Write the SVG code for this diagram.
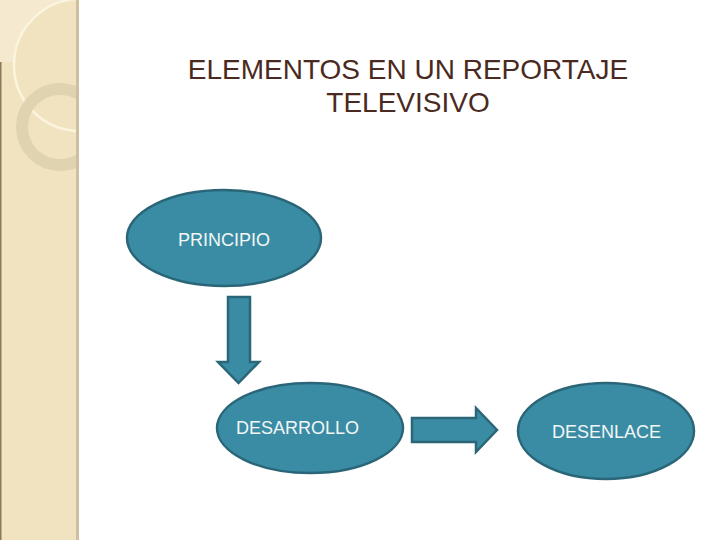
<svg xmlns="http://www.w3.org/2000/svg" width="720" height="540" viewBox="0 0 720 540">
<defs>
<style>
.title{font-family:"Liberation Sans",Arial,sans-serif;font-size:28px;fill:#4a2a20;text-anchor:middle}
.node{fill:#3a8ca5;stroke:#2a6678;stroke-width:2.5}
.lbl{font-family:"Liberation Sans",Arial,sans-serif;font-size:18px;fill:#f2f6f6}
.arrow{fill:#3a8ca5;stroke:#2a6678;stroke-width:2.5;stroke-linejoin:miter}
</style>
<clipPath id="side"><rect x="0" y="0" width="76" height="540"/></clipPath>
</defs>
<rect width="720" height="540" fill="#ffffff"/>
<g id="sidebar">
<rect x="0" y="0" width="76" height="540" fill="#f2e3c0"/>
<rect x="76" y="0" width="3" height="540" fill="#cdbf9f"/>
<rect x="0" y="62" width="1.5" height="478" fill="#8a7a5a"/>
<g clip-path="url(#side)">
<path d="M0 0 H64 A68 68 0 0 0 14 62 H0 Z" fill="#f5ead0"/>
<path d="M64 0 A68 68 0 0 0 14 62" fill="none" stroke="#d2c29c" stroke-width="0.8"/>
<circle cx="80" cy="65" r="66" fill="none" stroke="#fbf4de" stroke-width="2.5"/>
<circle cx="60" cy="127" r="38" fill="none" stroke="#ddd0ae" stroke-width="12" opacity="0.9"/>
</g>
</g>
<g id="title">
<text class="title" x="408" y="79">ELEMENTOS EN UN REPORTAJE</text>
<text class="title" x="408" y="112">TELEVISIVO</text>
</g>
<g id="connectors">
<path class="arrow" d="M228 297 H250 V362 H259 L238.5 383 L218 362 H228 Z"/>
<path class="arrow" d="M412 418 H476 V408 L497 430 L476 452 V442 H412 Z"/>
</g>
<g id="principio">
<ellipse class="node" cx="224" cy="238" rx="97" ry="48"/>
<text class="lbl" x="178" y="246">PRINCIPIO</text>
</g>
<g id="desarrollo">
<ellipse class="node" cx="310" cy="428" rx="93" ry="45"/>
<text class="lbl" x="236" y="434">DESARROLLO</text>
</g>
<g id="desenlace">
<ellipse class="node" cx="606" cy="431" rx="88" ry="48"/>
<text class="lbl" x="552" y="438">DESENLACE</text>
</g>
</svg>
